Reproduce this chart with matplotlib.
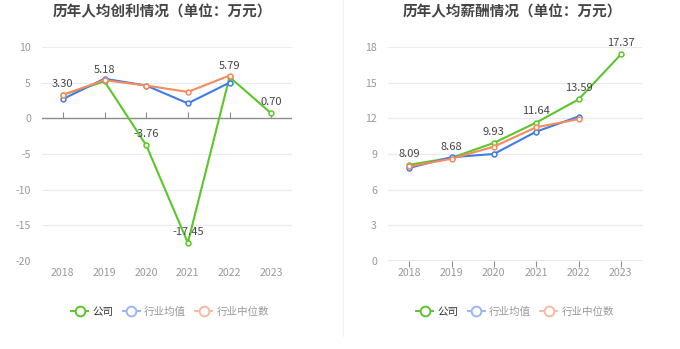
import matplotlib
matplotlib.use("Agg")
import matplotlib.pyplot as plt
from matplotlib.lines import Line2D

plt.rcParams['font.family'] = ['Noto Sans CJK SC', 'DejaVu Sans']

years = ['2018', '2019', '2020', '2021', '2022', '2023']

profit_company = [3.30, 5.18, -3.76, -17.45, 5.79, 0.70]
profit_avg = [2.70, 5.55, 4.60, 2.10, 5.00]
profit_median = [3.30, 5.35, 4.60, 3.70, 6.00]

salary_company = [8.09, 8.68, 9.93, 11.64, 13.59, 17.37]
salary_avg = [7.83, 8.73, 9.00, 10.88, 12.15]
salary_median = [7.95, 8.60, 9.62, 11.25, 11.93]

titles = ['历年人均创利情况（单位：万元）', '历年人均薪酬情况（单位：万元）']
legend_labels = ['公司', '行业均值', '行业中位数']

GREEN = '#5CC52B'
BLUE = '#3F7BE9'
ORANGE = '#F58A5E'
GRID = '#E6EBF5'
AXIS = '#8C8C8C'
LABEL = '#999999'

fig = plt.figure(figsize=(6.8, 3.49), dpi=100)
fig.patch.set_facecolor('white')

H = 349.0
W = 680.0
bottom = 1 - 261 / H
height = (261 - 47) / H

panels = [
    dict(left=42 / W, width=250 / W, ylim=(-20, 10), yticks=[-20, -15, -10, -5, 0, 5, 10],
         comp=profit_company, avg=profit_avg, med=profit_median, title=titles[0], cx=162 / W,
         legx=170 / W),
    dict(left=388 / W, width=254 / W, ylim=(0, 18), yticks=[0, 3, 6, 9, 12, 15, 18],
         comp=salary_company, avg=salary_avg, med=salary_median, title=titles[1], cx=512 / W,
         legx=515 / W),
]

for p in panels:
    ax = fig.add_axes([p['left'], bottom, p['width'], height])
    x = list(range(len(years)))
    ax.set_xlim(-0.5, len(years) - 0.5)
    ax.set_ylim(*p['ylim'])
    ax.set_yticks(p['yticks'])
    ax.set_yticklabels([str(v) for v in p['yticks']])
    for v in p['yticks']:
        if v != 0:
            ax.axhline(v, color=GRID, lw=0.8, zorder=0)
    ax.axhline(0, color=AXIS, lw=1.0, zorder=1)
    for s in ax.spines.values():
        s.set_visible(False)
    ax.set_xticks(x)
    ax.set_xticklabels(years)
    ax.tick_params(axis='x', length=0, labelsize=7.6, colors=LABEL, pad=5)
    ax.tick_params(axis='y', length=0, labelsize=7.6, colors=LABEL, pad=8)
    ymin, ymax = p['ylim']
    loc = (0 - ymin) / (ymax - ymin)
    sec = ax.secondary_xaxis(loc)
    sec.set_xticks(x)
    sec.set_xticklabels([])
    sec.tick_params(axis='x', direction='out', length=4, color=AXIS, width=0.8)
    sec.spines['bottom'].set_visible(False)
    sec.spines['top'].set_visible(False)

    mk = dict(marker='o', markersize=3.5, markerfacecolor='white', markeredgewidth=1.1, lw=1.5)
    ax.plot(x, p['comp'], color=GREEN, zorder=3, **mk)
    ax.plot(x[:len(p['avg'])], p['avg'], color=BLUE, zorder=4, **mk)
    ax.plot(x[:len(p['med'])], p['med'], color=ORANGE, zorder=5, **mk)
    for xi, v in zip(x, p['comp']):
        ax.annotate(f'{v:.2f}', (xi, v), xytext=(0, 4.5), textcoords='offset points',
                    ha='center', va='bottom', fontsize=8, color='#444444', zorder=6)

    fig.text(p['cx'], 1 - 11 / H, p['title'], ha='center', va='center',
             fontsize=10.5, fontweight='bold', color='#454545')

    handles = [
        Line2D([], [], color=GREEN, marker='o', markersize=7, markerfacecolor='white',
               markeredgewidth=1.4, lw=1.4),
        Line2D([], [], color='#9BB8F2', marker='o', markersize=7, markerfacecolor='white',
               markeredgewidth=1.4, lw=1.4),
        Line2D([], [], color='#F8BBA2', marker='o', markersize=7, markerfacecolor='white',
               markeredgewidth=1.4, lw=1.4),
    ]
    leg = fig.legend(handles, legend_labels, loc='center', bbox_to_anchor=(p['legx'], 1 - 312 / H),
                     ncol=3, frameon=False, fontsize=7.6, handlelength=1.6, handletextpad=0.4,
                     columnspacing=0.9)
    cols = ['#333333', '#999999', '#999999']
    for t, c in zip(leg.get_texts(), cols):
        t.set_color(c)

fig.add_artist(Line2D([343 / W, 343 / W], [1 - 336 / H, 1.0], color='#F2F2F2', lw=0.8))

fig.savefig('out.png', dpi=100)
